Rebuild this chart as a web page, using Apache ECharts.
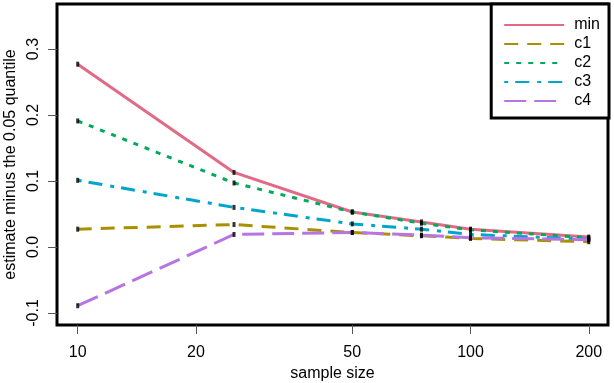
<!DOCTYPE html>
<html>
<head>
<meta charset="utf-8">
<script src="https://cdn.jsdelivr.net/npm/echarts@6/dist/echarts.min.js"></script>
<style>
html,body{margin:0;padding:0;background:#fff;}
#chart{width:614px;height:383px;}
</style>
</head>
<body>
<div id="chart"></div>
<script>
// ---- data ----
var sampleSizes = [10, 25, 50, 75, 100, 200];
var xTickValues = [10, 20, 50, 100, 200];
var yTickValues = [-0.1, 0.0, 0.1, 0.2, 0.3];
var seriesNames = ['min', 'c1', 'c2', 'c3', 'c4'];
var minVals = [0.277, 0.113, 0.053, 0.038, 0.027, 0.015];
var c1Vals  = [0.027, 0.034, 0.022, 0.017, 0.013, 0.008];
var c2Vals  = [0.191, 0.097, 0.053, 0.036, 0.026, 0.014];
var c3Vals  = [0.101, 0.060, 0.035, 0.027, 0.019, 0.012];
var c4Vals  = [-0.089, 0.019, 0.022, 0.018, 0.014, 0.011];

var FONT = 'Liberation Sans';
var colors = ['#E16A86', '#AA9000', '#00AA5A', '#00A6CA', '#B675E0'];
var dashes = ['solid', [14, 9], [5, 7], [4, 7, 14, 8], [22, 8]];
var allVals = [minVals, c1Vals, c2Vals, c3Vals, c4Vals];

function lg(v) { return Math.log10(v); }

var series = [];
allVals.forEach(function (vals, i) {
  series.push({
    name: seriesNames[i],
    type: 'line',
    data: sampleSizes.map(function (n, j) { return [lg(n), vals[j]]; }),
    symbol: 'none',
    lineStyle: { color: colors[i], width: 3, type: dashes[i], cap: 'butt' },
    itemStyle: { color: colors[i] },
    z: 2,
    animation: false
  });
});
allVals.forEach(function (vals, i) {
  series.push({
    name: seriesNames[i] + '_pts',
    type: 'scatter',
    data: sampleSizes.map(function (n, j) { return [lg(n), vals[j]]; }),
    symbol: 'rect',
    symbolSize: [3, 5],
    itemStyle: { color: '#000' },
    z: 5,
    silent: true,
    animation: false
  });
});

var chart = echarts.init(document.getElementById('chart'), null, { renderer: 'canvas' });
chart.setOption({
  animation: false,
  backgroundColor: '#fff',
  textStyle: { fontFamily: FONT },
  grid: {
    left: 57, right: 6, top: 4, bottom: 58,
    containLabel: false,
    outerBoundsMode: 'none',
    show: true, borderColor: '#000', borderWidth: 3, backgroundColor: 'transparent'
  },
  legend: {
    data: seriesNames,
    orient: 'vertical',
    right: 5, top: 4,
    padding: [13, 9, 9, 12],
    itemWidth: 60, itemHeight: 14, itemGap: 3,
    borderColor: '#000', borderWidth: 3,
    backgroundColor: '#fff',
    itemStyle: { color: 'rgba(0,0,0,0)', borderColor: 'rgba(0,0,0,0)', borderWidth: 0 },
    textStyle: { fontFamily: FONT, fontSize: 16, color: '#000', padding: [0, 0, 0, 5] }
  },
  xAxis: {
    type: 'value',
    min: 0.9473, max: 2.350,
    name: 'sample size',
    nameLocation: 'middle',
    nameGap: 40,
    nameTextStyle: { fontFamily: FONT, fontSize: 16, color: '#000' },
    axisLine: { show: false, onZero: false },
    splitLine: { show: false },
    axisTick: { show: true, length: 9, lineStyle: { color: '#555', width: 1 },
      customValues: xTickValues.map(lg) },
    axisLabel: {
      fontFamily: FONT, fontSize: 16, color: '#000', margin: 20,
      customValues: xTickValues.map(lg),
      formatter: function (v) { return String(Math.round(Math.pow(10, v))); }
    }
  },
  yAxis: {
    type: 'value',
    min: -0.1182, max: 0.3682,
    name: 'estimate minus the 0.05 quantile',
    nameLocation: 'middle',
    nameGap: 31,
    nameRotate: 90,
    nameTextStyle: { fontFamily: FONT, fontSize: 16, color: '#000' },
    axisLine: { show: false, onZero: false },
    splitLine: { show: false },
    axisTick: { show: true, length: 9, lineStyle: { color: '#555', width: 1 },
      customValues: yTickValues },
    axisLabel: {
      fontFamily: FONT, fontSize: 16, color: '#000', margin: 15, rotate: 90,
      customValues: yTickValues,
      formatter: function (v) { return v.toFixed(1); }
    }
  },
  series: series
});
</script>
</body>
</html>
